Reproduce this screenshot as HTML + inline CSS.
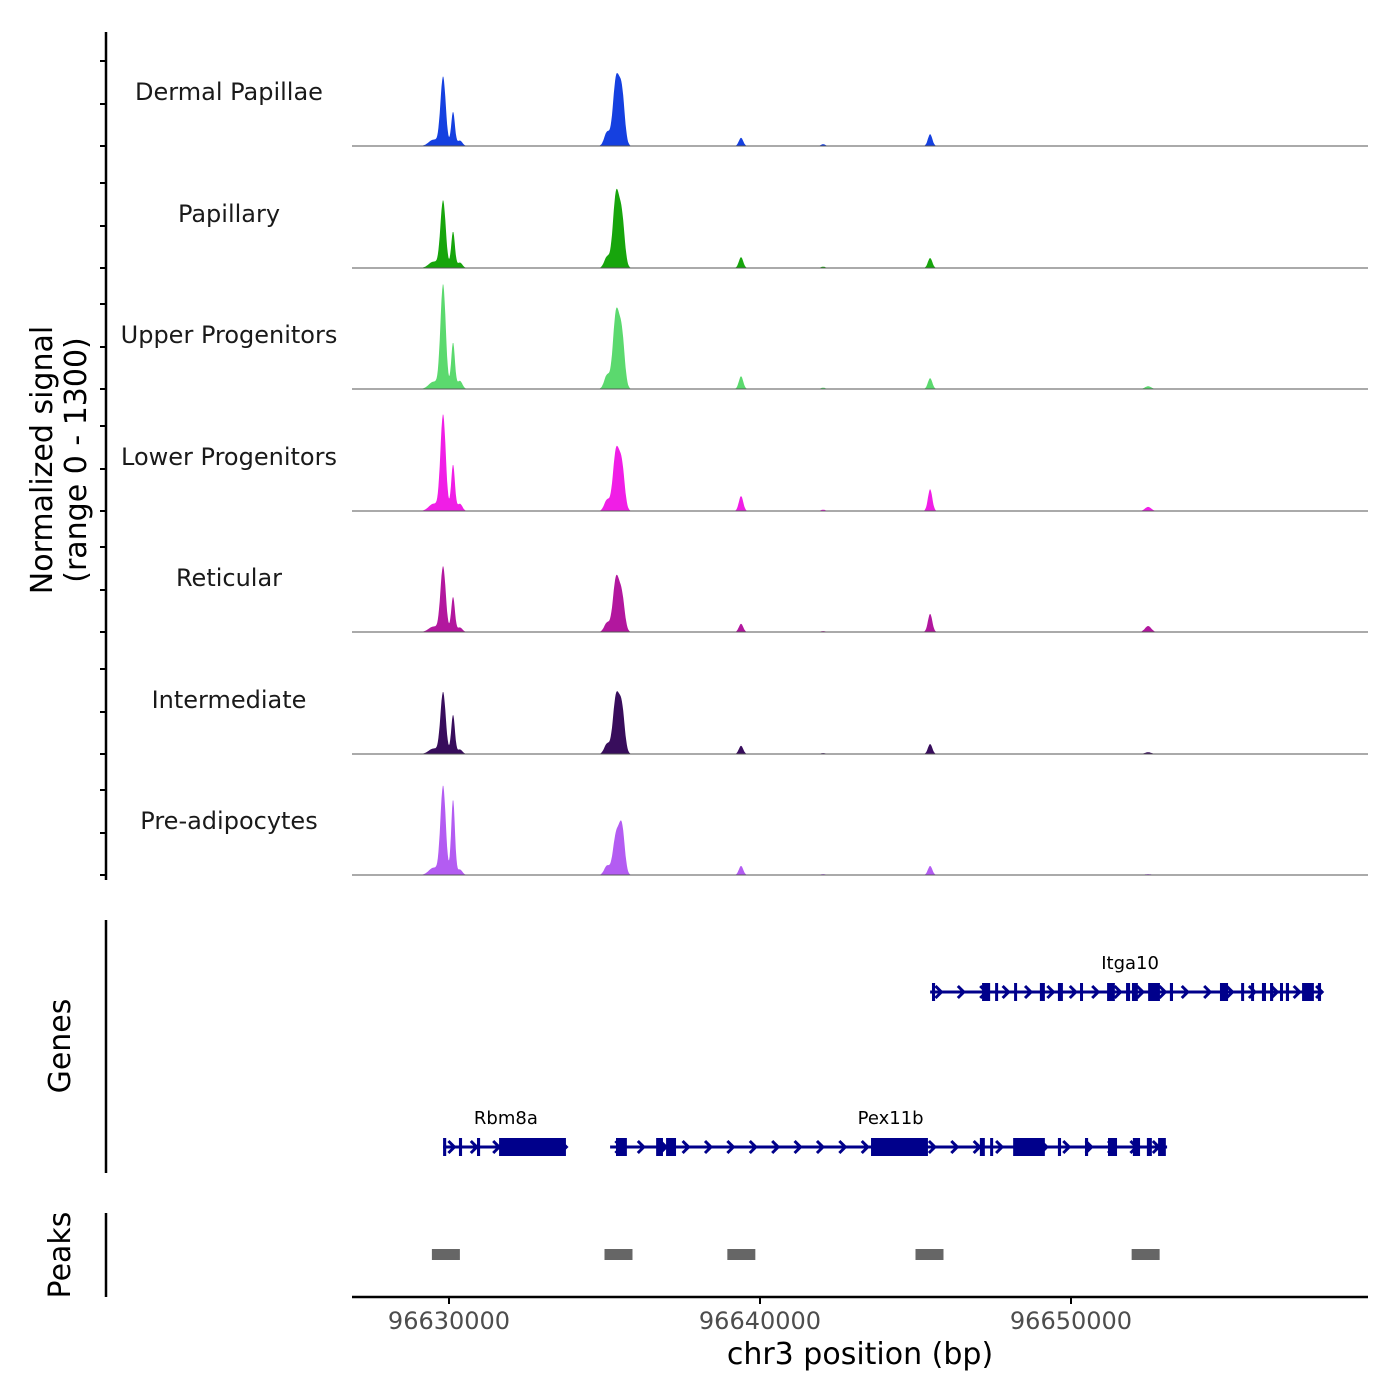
<!DOCTYPE html>
<html><head><meta charset="utf-8"><style>
body{margin:0;background:#fff}
svg{display:block;font-family:"DejaVu Sans","Liberation Sans",sans-serif}
</style></head><body>
<svg id="chart" width="1400" height="1400" viewBox="0 0 1400 1400" xmlns="http://www.w3.org/2000/svg">
<g id="tracks"></g>
<g id="genes"></g>
<g id="peaks"></g>
<g id="axes"></g>
</svg>
<script>
// ---- data ----
const trackNames = ["Dermal Papillae","Papillary","Upper Progenitors","Lower Progenitors","Reticular","Intermediate","Pre-adipocytes"];
const trackColors = ["#1540e0","#17a50c","#5bd96e","#f01ee6","#b2179e","#380d5c","#b35cf2"];
// peak centers (kb offset from 96,630,000)
const peakPos = [-0.50,-0.19,0.13,0.35,5.08,5.37,5.56,9.39,12.03,15.47,22.48];
// peak heights per track (signal units, range 0-1300)
const sigDermal = [70,760,375,60,150,720,560,90,20,130,5];
const sigPapillary = [70,740,400,60,120,800,520,120,15,110,5];
const sigUpper = [80,1150,510,90,150,820,560,140,15,120,30];
const sigLower = [80,1060,510,80,120,650,470,165,15,240,45];
const sigReticular = [60,720,385,50,100,580,370,90,10,200,66];
const sigIntermediate = [60,680,430,50,110,620,480,90,10,110,20];
const sigPreadipo = [80,980,830,60,100,430,510,100,10,100,10];
const trackSignals = [sigDermal,sigPapillary,sigUpper,sigLower,sigReticular,sigIntermediate,sigPreadipo];
const xTicks = [96630000,96640000,96650000];
const xTickLabels = ["96630000","96640000","96650000"];
const genes = [
 {name:"Itga10", row:0, start:15.47, end:28.10, label:21.9, exons:[[15.53,15.63],[17.14,17.40],[17.56,17.65],[18.17,18.26],[19.00,19.16],[19.58,19.74],[20.29,20.38],[21.16,21.41],[21.77,21.90],[21.96,22.15],[22.48,22.86],[23.18,23.28],[24.79,25.05],[25.47,25.56],[25.79,25.88],[26.14,26.27],[26.40,26.50],[26.72,26.81],[26.91,27.01],[27.43,27.81],[27.94,28.04]]},
 {name:"Rbm8a", row:1, start:-0.19, end:3.76, label:1.83, exons:[[-0.19,-0.09],[0.32,0.42],[0.90,1.00],[1.61,3.76]]},
 {name:"Pex11b", row:1, start:5.18, end:23.09, label:14.2, exons:[[5.37,5.72],[6.66,6.88],[6.98,7.30],[13.57,15.40],[17.07,17.23],[17.40,17.49],[18.14,19.16],[19.58,19.68],[20.45,20.55],[21.19,21.48],[21.99,22.22],[22.44,22.60],[22.80,23.05]]}
];
const peakRegions = [[-0.55,0.35],[5.0,5.9],[8.95,9.85],[15.0,15.9],[21.95,22.85]];

// ---- scales ----
const NS="http://www.w3.org/2000/svg";
const x0=352,x1=1368, bpMin=96626881, bpMax=96659550;
function xBp(bp){return x0+(bp-bpMin)/(bpMax-bpMin)*(x1-x0);}
function xKb(k){return xBp(96630000+k*1000);}
const baselines=[146,268,389,511,632,754,875];
function yVal(v,b){return b-v/1300*118;}
function mk(tag,attrs,parent){const e=document.createElementNS(NS,tag);for(const k in attrs)e.setAttribute(k,attrs[k]);parent.appendChild(e);return e;}
const widths=[0.15,0.085,0.06,0.08,0.09,0.1,0.09,0.07,0.07,0.07,0.1];

const gT=document.getElementById('tracks');
trackSignals.forEach((sig,ti)=>{
  const b=baselines[ti];
  let d=`M${x0},${b}`;
  for(let k=-3.2;k<=29.6;k+=0.02){
    let v=0;
    peakPos.forEach((p,i)=>{const w=widths[i];v+=sig[i]*Math.exp(-((k-p)*(k-p))/(2*w*w));});
    d+=`L${xKb(k).toFixed(1)},${yVal(Math.min(v,1300),b).toFixed(1)}`;
  }
  d+=`L${x1},${b}Z`;
  const p=mk('path',{d:d,fill:trackColors[ti]},gT);
  
  
  const l=mk('line',{x1:x0,x2:x1,y1:b,y2:b,stroke:'#555','stroke-width':1},gT);
  
  
  const t=mk('text',{x:229,y:b-46,'text-anchor':'middle','font-size':24,fill:'#1a1a1a'},gT);
  t.textContent=trackNames[ti];
  
  
});

const gG=document.getElementById('genes');
const rowY=[992,1147];
genes.forEach(g=>{
  const y=rowY[g.row];
  const l=mk('line',{x1:xKb(g.start),x2:xKb(g.end),y1:y,y2:y,stroke:'#00008B','stroke-width':3},gG);
  
  
  for(let k=g.start+0.3;k<g.end;k+=0.72){
    const cx=xKb(k);
    const c=mk('polyline',{points:`${cx-4},${y-6} ${cx+2},${y} ${cx-4},${y+6}`,fill:'none',stroke:'#00008B','stroke-width':3},gG);
    
    
  }
  g.exons.forEach(e=>{
    const r=mk('rect',{x:xKb(e[0]),y:y-9,width:Math.max(3,xKb(e[1])-xKb(e[0])),height:18,fill:'#00008B'},gG);
    
    
  });
  const t=mk('text',{x:xKb(g.label),y:y-23,'text-anchor':'middle','font-size':18,fill:'#000'},gG);
  t.textContent=g.name;
  
  
});

const gP=document.getElementById('peaks');
peakRegions.forEach(p=>{
  const r=mk('rect',{x:xKb(p[0]),y:1249,width:xKb(p[1])-xKb(p[0]),height:11,fill:'#666'},gP);
  
  
});

const gA=document.getElementById('axes');
function line(a,b,c,d,w,name){const l=mk('line',{x1:a,y1:b,x2:c,y2:d,stroke:'#000','stroke-width':w},gA);}
line(106,32,106,880,2.5,'y-axis-line');
baselines.forEach(b=>{[0,42,85].forEach(o=>line(100,b-o,106,b-o,2,'y-tick'));});
line(106,920,106,1173,2.5,'genes-axis-line');
line(106,1213,106,1297,2.5,'peaks-axis-line');
line(352,1297,1368,1297,2.5,'x-axis-line');
xTicks.forEach((v,i)=>{
  const x=xBp(v);
  line(x,1297,x,1304,2,'x-tick');
  const t=mk('text',{x:x,y:1329,'text-anchor':'middle','font-size':24,fill:'#4d4d4d'},gA);
  t.textContent=xTickLabels[i];
  
  
});
function txt(s,x,y,size,name,rot){const t=mk('text',{x:x,y:y,'text-anchor':'middle','font-size':size,fill:'#000'},gA);if(rot)t.setAttribute('transform',`rotate(-90 ${x} ${y})`);t.textContent=s;return t;}
txt('chr3 position (bp)',860,1364,30,'x-axis-title');
txt('Normalized signal',52,460,30,'y-axis-title',true);
txt('(range 0 - 1300)',86,460,30,'y-axis-subtitle',true);
txt('Genes',70,1046,30,'genes-axis-title',true);
txt('Peaks',70,1255,30,'peaks-axis-title',true);
</script>
</body></html>
